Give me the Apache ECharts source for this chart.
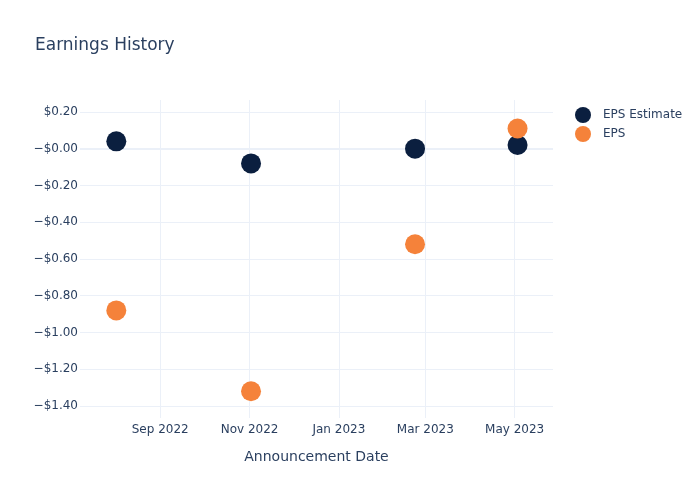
<!DOCTYPE html>
<html>
<head>
<meta charset="utf-8">
<script src="https://cdn.jsdelivr.net/npm/echarts@6/dist/echarts.min.js"></script>
<style>html,body{margin:0;padding:0;background:#fff}#chart{width:700px;height:500px}</style>
</head>
<body>
<div id="chart"></div>
<script>
const dates = ['2022-08-02', '2022-11-02', '2023-02-22', '2023-05-03'];
const epsEstimate = [0.04, -0.08, 0.00, 0.02];
const epsActual = [-0.88, -1.32, -0.52, 0.11];
const xTickDates = ['2022-09-01', '2022-11-01', '2023-01-01', '2023-03-01', '2023-05-01'];
const yTicks = [-1.4, -1.2, -1.0, -0.8, -0.6, -0.4, -0.2, 0, 0.2];
const xRange = ['2022-07-08T05:00', '2023-05-27T05:00'];
const yRange = [-1.4656, 0.265];

function parseLocal(s) {
  const [d, t] = s.split('T');
  const [y, m, dd] = d.split('-').map(Number);
  let hh = 0, mm = 0;
  if (t) { [hh, mm] = t.split(':').map(Number); }
  return new Date(y, m - 1, dd, hh, mm).getTime();
}
const MONTHS = ['Jan','Feb','Mar','Apr','May','Jun','Jul','Aug','Sep','Oct','Nov','Dec'];
const xTicks = xTickDates.map(parseLocal);
const font = '"DejaVu Sans", Verdana, sans-serif';
const txt = '#2a3f5f';
const grid = '#EBF0F8';

const chart = echarts.init(document.getElementById('chart'), null, {renderer: 'canvas'});
chart.setOption({
  backgroundColor: '#fff',
  animation: false,
  title: {
    text: 'Earnings History', left: 30, top: 32,
    textStyle: {fontFamily: font, fontSize: 17, fontWeight: 'normal', color: txt}
  },
  legend: {
    left: 570, top: 102, orient: 'vertical', icon: 'circle',
    itemWidth: 16, itemHeight: 16, itemGap: 3,
    textStyle: {fontFamily: font, fontSize: 12, color: txt, padding: [0, 0, 0, 7]},
    data: ['EPS Estimate', 'EPS']
  },
  grid: {left: 80, right: 147, top: 100, bottom: 82, containLabel: false},
  xAxis: {
    type: 'value',
    min: parseLocal(xRange[0]), max: parseLocal(xRange[1]),
    name: 'Announcement Date', nameLocation: 'middle', nameGap: 32,
    nameTextStyle: {fontFamily: font, fontSize: 14, color: txt},
    axisLine: {show: false},
    axisTick: {show: false, customValues: xTicks},
    axisLabel: {
      customValues: xTicks, margin: 6,
      fontFamily: font, fontSize: 12, color: txt,
      formatter: v => { const d = new Date(v); return MONTHS[d.getMonth()] + ' ' + d.getFullYear(); }
    },
    splitLine: {show: true, lineStyle: {color: grid, width: 1}}
  },
  yAxis: {
    type: 'value',
    min: yRange[0], max: yRange[1],
    axisLine: {show: false},
    axisTick: {show: false, customValues: yTicks},
    axisLabel: {
      customValues: yTicks, margin: 2,
      fontFamily: font, fontSize: 12, color: txt,
      formatter: v => {
        const a = Math.abs(v).toFixed(2);
        return (v > 1e-9 ? '' : '\u2212') + '$' + a;
      }
    },
    splitLine: {show: true, lineStyle: {color: grid, width: 1}}
  },
  series: [
    {
      name: 'EPS Estimate', type: 'scatter', symbolSize: 20,
      itemStyle: {color: '#0b1f3f', opacity: 1, borderWidth: 0},
      data: dates.map((d, i) => [parseLocal(d), epsEstimate[i]]),
      markLine: {
        silent: true, symbol: 'none', label: {show: false},
        lineStyle: {color: grid, width: 2, type: 'solid'},
        data: [{yAxis: 0}], z: 1
      },
      z: 3
    },
    {
      name: 'EPS', type: 'scatter', symbolSize: 20,
      itemStyle: {color: '#f5823a', opacity: 1, borderWidth: 0},
      data: dates.map((d, i) => [parseLocal(d), epsActual[i]]),
      z: 4
    }
  ]
});
</script>
</body>
</html>
